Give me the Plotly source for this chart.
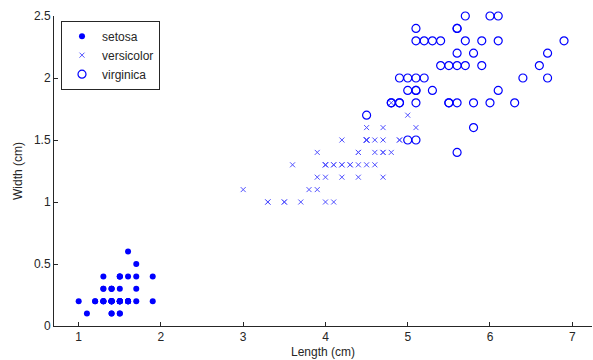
import plotly.graph_objects as go

setosa_len = [1.4,1.4,1.3,1.5,1.4,1.7,1.4,1.5,1.4,1.5,1.5,1.6,1.4,1.1,1.2,1.5,1.3,1.4,1.7,1.5,
              1.7,1.5,1.0,1.7,1.9,1.6,1.6,1.5,1.4,1.6,1.6,1.5,1.5,1.4,1.5,1.2,1.3,1.4,1.3,1.5,
              1.3,1.3,1.3,1.6,1.9,1.4,1.6,1.4,1.5,1.4]
setosa_wid = [0.2,0.2,0.2,0.2,0.2,0.4,0.3,0.2,0.2,0.1,0.2,0.2,0.1,0.1,0.2,0.4,0.4,0.3,0.3,0.3,
              0.2,0.4,0.2,0.5,0.2,0.2,0.4,0.2,0.2,0.2,0.2,0.4,0.1,0.2,0.2,0.2,0.2,0.1,0.2,0.2,
              0.3,0.3,0.2,0.6,0.4,0.3,0.2,0.2,0.2,0.2]
versicolor_len = [4.7,4.5,4.9,4.0,4.6,4.5,4.7,3.3,4.6,3.9,3.5,4.2,4.0,4.7,3.6,4.4,4.5,4.1,4.5,3.9,
                  4.8,4.0,4.9,4.7,4.3,4.4,4.8,5.0,4.5,3.5,3.8,3.7,3.9,5.1,4.5,4.5,4.7,4.4,4.1,4.0,
                  4.4,4.6,4.0,3.3,4.2,4.2,4.2,4.3,3.0,4.1]
versicolor_wid = [1.4,1.5,1.5,1.3,1.5,1.3,1.6,1.0,1.3,1.4,1.0,1.5,1.0,1.4,1.3,1.4,1.5,1.0,1.5,1.1,
                  1.8,1.3,1.5,1.2,1.3,1.4,1.4,1.7,1.5,1.0,1.1,1.0,1.2,1.6,1.5,1.6,1.5,1.3,1.3,1.3,
                  1.2,1.4,1.2,1.0,1.3,1.2,1.3,1.3,1.1,1.3]
virginica_len = [6.0,5.1,5.9,5.6,5.8,6.6,4.5,6.3,5.8,6.1,5.1,5.3,5.5,5.0,5.1,5.3,5.5,6.7,6.9,5.0,
                 5.7,4.9,6.7,4.9,5.7,6.0,4.8,4.9,5.6,5.8,6.1,6.4,5.6,5.1,5.6,6.1,5.6,5.5,4.8,5.4,
                 5.6,5.1,5.1,5.9,5.7,5.2,5.0,5.2,5.4,5.1]
virginica_wid = [2.5,1.9,2.1,1.8,2.2,2.1,1.7,1.8,1.8,2.5,2.0,1.9,2.1,2.0,2.4,2.3,1.8,2.2,2.3,1.5,
                 2.3,2.0,2.0,1.8,2.1,1.8,1.8,1.8,2.1,1.6,1.9,2.0,2.2,1.5,1.4,2.3,2.4,1.8,1.8,2.1,
                 2.4,2.3,1.9,2.3,2.5,2.3,1.9,2.0,2.3,1.8]

x_ticks = [1, 2, 3, 4, 5, 6, 7]
y_ticks = [0, 0.5, 1, 1.5, 2, 2.5]

BLUE = "#0000ff"
FONT = "Liberation Sans, Arial"
fig = go.Figure()
fig.add_trace(go.Scatter(x=setosa_len, y=setosa_wid, mode="markers", name="setosa", cliponaxis=False,
                         marker=dict(symbol="circle", size=6, color=BLUE, line=dict(width=0))))
fig.add_trace(go.Scatter(x=versicolor_len, y=versicolor_wid, mode="markers", name="versicolor",
                         cliponaxis=False,
                         marker=dict(symbol="x-thin", size=5, color="#5050ff",
                                     line=dict(width=1, color="#5050ff"))))
fig.add_trace(go.Scatter(x=virginica_len, y=virginica_wid, mode="markers", name="virginica",
                         cliponaxis=False,
                         marker=dict(symbol="circle-open", size=8, color=BLUE,
                                     line=dict(width=1.2, color=BLUE))))

axis_common = dict(showgrid=False, zeroline=False, showline=True, linecolor="#262626",
                   linewidth=1, ticks="inside", ticklen=4, tickcolor="#262626",
                   tickfont=dict(family=FONT, size=12, color="#262626"),
                   mirror=False)
fig.update_layout(
    width=593, height=360,
    margin=dict(l=54, r=1, t=16, b=34),
    paper_bgcolor="white", plot_bgcolor="white",
    font=dict(family=FONT, size=12, color="#262626"),
    xaxis=dict(range=[0.7, 7.24], tickvals=x_ticks,
               title=dict(text="Length (cm)", standoff=4, font=dict(size=12)), **axis_common),
    yaxis=dict(range=[0, 2.5], tickvals=y_ticks,
               title=dict(text="Width (cm)", standoff=8, font=dict(size=12)), **axis_common),
    legend=dict(x=0.013, y=0.985, xanchor="left", yanchor="top", bordercolor="#262626",
                borderwidth=1, bgcolor="white", font=dict(size=12), tracegroupgap=0),
    showlegend=True,
)
fig.write_html("out.html")
